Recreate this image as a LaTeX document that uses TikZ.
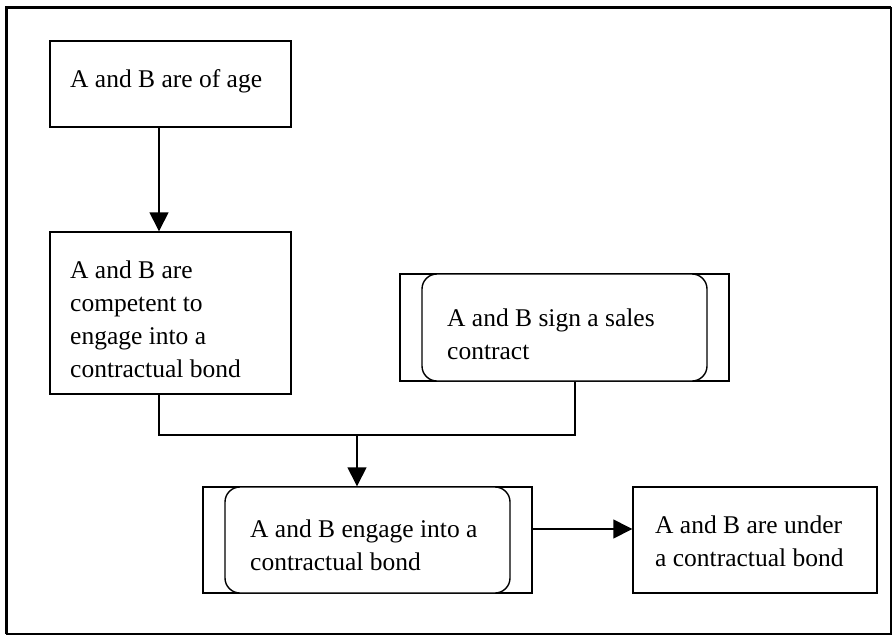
\documentclass[tikz,border=0pt]{standalone}
\usepackage{fontspec}
\setmainfont{Liberation Serif}
\usetikzlibrary{arrows.meta}

\tikzset{
  boxline/.style={draw=black, line width=1.4pt},
  plainbox/.style={boxline, rectangle, inner sep=0pt},
  roundbox/.style={boxline, rectangle, rounded corners=15pt, inner sep=0pt, fill=white},
  label text/.style={anchor=base west, inner sep=0pt, font=\fontsize{25.5}{33}\selectfont},
  link/.style={draw=black, line width=1.4pt},
  arr/.style={link, -{Triangle[length=19pt, width=19pt]}},
}
\newcommand{\lines}[1]{\begin{tabular}[t]{@{}l@{}}#1\end{tabular}}

\begin{document}
\begin{tikzpicture}[x=1pt, y=-1pt]
  \useasboundingbox (0,0) rectangle (892,635);

  % outer frame: heavy top and left, light right and bottom
  \draw[line width=3pt] (6,634) -- (6,7) -- (891,7);
  \draw[line width=1.2pt] (891,7) -- (891,634) -- (6,634);

  % boxes
  \node[plainbox, minimum width=241pt, minimum height=86pt] (age) at (170.5,84) {};
  \node[plainbox, minimum width=241pt, minimum height=162pt] (comp) at (170.5,313) {};

  \node[plainbox, minimum width=329pt, minimum height=107pt] (signout) at (564.5,327.5) {};
  \node[roundbox, minimum width=285pt, minimum height=107pt] (signin) at (564.5,327.5) {};

  \node[plainbox, minimum width=329pt, minimum height=106pt] (engout) at (367.5,540) {};
  \node[roundbox, minimum width=285pt, minimum height=106pt] (engin) at (367.5,540) {};

  \node[plainbox, minimum width=244pt, minimum height=106pt] (under) at (755,540) {};

  % texts
  \node[label text] (agetxt) at (70,87) {A and B are of age};
  \node[label text] (comptxt) at (70,278) {\lines{A and B are\\competent to\\engage into a\\contractual bond}};
  \node[label text] (signtxt) at (447,326) {\lines{A and B sign a sales\\contract}};
  \node[label text] (engtxt) at (250,537) {\lines{A and B engage into a\\contractual bond}};
  \node[label text] (undertxt) at (655,533) {\lines{A and B are under\\a contractual bond}};

  % junction points
  \coordinate (j1) at (159,435);
  \coordinate (j2) at (575,435);
  \coordinate (jm) at (357,435);
  \coordinate (h) at (580,529);

  % connectors
  \draw[arr] (age.south -| j1) -- (comp.north -| j1);
  \draw[link] (comp.south -| j1) -- (j1) -- (j2) -- (signout.south -| j2);
  \draw[arr] (jm) -- (engout.north -| jm);
  \draw[arr] (engout.east |- h) -- (under.west |- h);
\end{tikzpicture}
\end{document}
